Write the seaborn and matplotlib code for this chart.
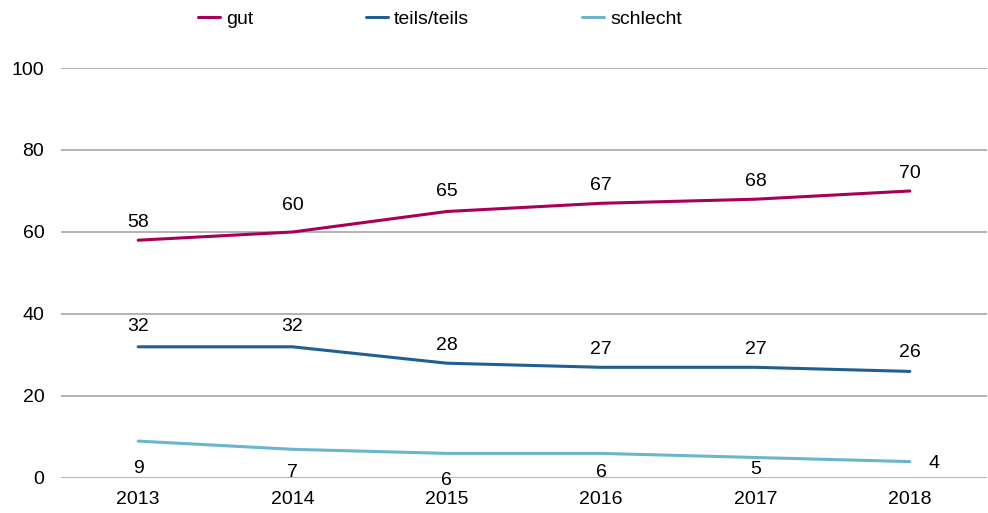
import matplotlib
matplotlib.use("Agg")
import matplotlib.pyplot as plt
import seaborn as sns
import pandas as pd

years = ["2013", "2014", "2015", "2016", "2017", "2018"]
gut = [58, 60, 65, 67, 68, 70]
teils = [32, 32, 28, 27, 27, 26]
schlecht = [9, 7, 6, 6, 5, 4]
series_names = ["gut", "teils/teils", "schlecht"]
colors = ["#A8005A", "#1F5F93", "#6CB6CD"]

# label placement (pixel offsets from each point, as in the reference)
gut_off = [(0, 18), (0, 26), (0, 20), (0, 18), (0, 18), (0, 18)]
teils_off = [(0, 20), (0, 20), (0, 18), (0, 18), (0, 18), (0, 19)]
schlecht_off = [(0, -27), (0, -23), (0, -27), (0, -19), (0, -12), (24, -2)]

sns.set_theme(style="white")
plt.rcParams["font.family"] = ["Liberation Sans", "DejaVu Sans"]
plt.rcParams["text.color"] = "#000000"

FS = 14

rows = []
for name, vals in zip(series_names, [gut, teils, schlecht]):
    for i, (y, v) in enumerate(zip(years, vals)):
        rows.append({"idx": i, "year": y, "value": v, "series": name})
df = pd.DataFrame(rows)

fig = plt.figure(figsize=(9.88, 5.13), dpi=100)
ax = fig.add_axes([61 / 988, 35 / 513, 926 / 988, 410 / 513])

sns.lineplot(data=df, x="idx", y="value", hue="series", hue_order=series_names,
             palette=colors, linewidth=2.2, ax=ax, legend=False)

ax.set_xlim(-0.5, len(years) - 0.5)
ax.set_ylim(0, 100)
ax.set_yticks([0, 20, 40, 60, 80, 100])
ax.set_xticks(range(len(years)))
ax.set_xticklabels(years)
ax.tick_params(axis="both", labelsize=FS, length=0, colors="#000000")
ax.tick_params(axis="y", pad=12)
ax.tick_params(axis="x", pad=9)
ax.set_xlabel("")
ax.set_ylabel("")
ax.grid(axis="y", color="#A6A6A6", linewidth=1.2)
ax.set_axisbelow(True)
for s in ax.spines.values():
    s.set_visible(False)

# data labels
for vals, offs in [(gut, gut_off), (teils, teils_off), (schlecht, schlecht_off)]:
    for i, (v, off) in enumerate(zip(vals, offs)):
        ax.annotate(str(v), (i, v), xytext=off, textcoords="offset pixels",
                    ha="center", va="center", fontsize=FS, color="#000000")

handles = [plt.Line2D([], [], color=c, linewidth=2.2) for c in colors]
fig.legend(handles, series_names, loc="center", bbox_to_anchor=(0.445, 0.963),
           ncol=3, frameon=False, fontsize=FS, handlelength=1.15,
           handletextpad=0.3, columnspacing=5.8)

fig.savefig("out.png", dpi=100)
